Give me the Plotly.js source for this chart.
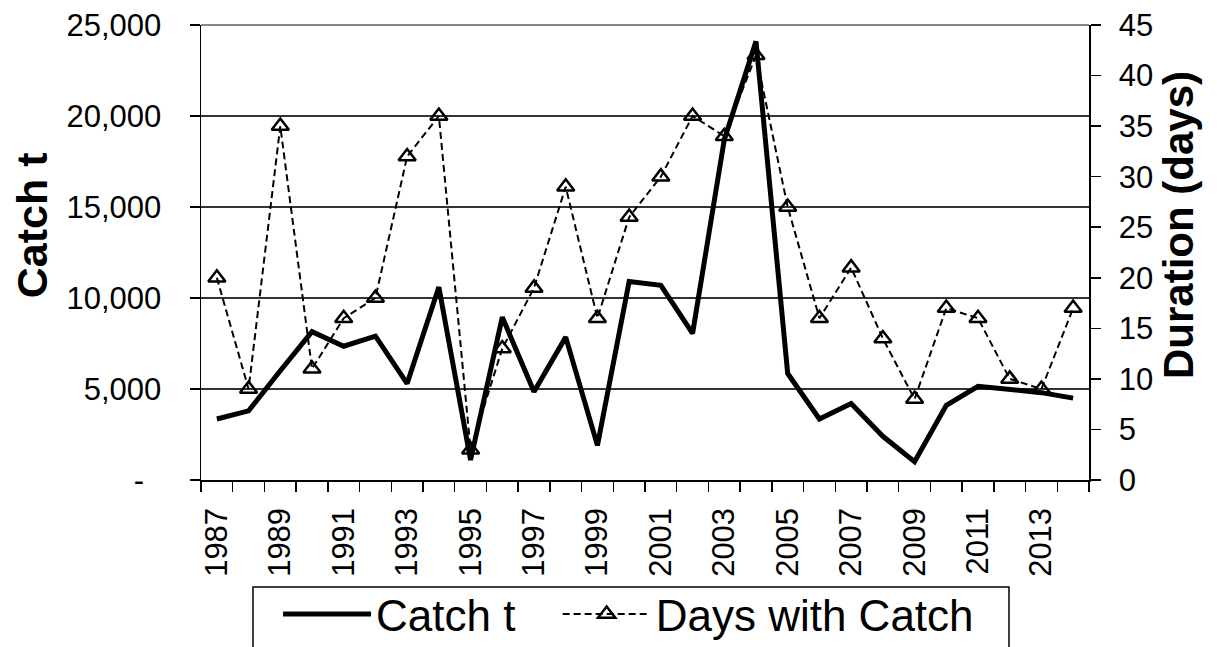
<!DOCTYPE html>
<html>
<head>
<meta charset="utf-8">
<script src="https://cdn.plot.ly/plotly-3.0.1.min.js"></script>
<style>
  html, body { margin: 0; padding: 0; background: #fff; }
  #chart { width: 1217px; height: 647px; }
</style>
</head>
<body>
<div id="chart"></div>
<script>
// Annual catch (tonnes) and number of fishing days with catch, 1987-2014
const years = [1987, 1988, 1989, 1990, 1991, 1992, 1993, 1994, 1995, 1996,
               1997, 1998, 1999, 2000, 2001, 2002, 2003, 2004, 2005, 2006,
               2007, 2008, 2009, 2010, 2011, 2012, 2013, 2014];

const catchTonnes = [3350, 3800, 6000, 8150, 7350, 7900, 5300, 10600, 1100, 8950,
                     4850, 7850, 1900, 10900, 10700, 8050, 18700, 24100, 5850, 3350,
                     4200, 2400, 1000, 4100, 5150, 4950, 4800, 4500];

const daysWithCatch = [20, 9, 35, 11, 16, 18, 32, 36, 3, 13,
                       19, 29, 16, 26, 30, 36, 34, 42, 27, 16,
                       21, 14, 8, 17, 16, 10, 9, 17];

// Left-axis ticks (accounting style: zero shown as a dash)
const catchTickVals = [0, 5000, 10000, 15000, 20000, 25000];
const catchTickText = ['-\u00a0\u00a0', '5,000', '10,000', '15,000', '20,000', '25,000'];

// Right-axis ticks
const dayTickVals = [0, 5, 10, 15, 20, 25, 30, 35, 40, 45];

// Year labels on every second year
const yearLabelVals = years.filter((y, i) => i % 2 === 0);
const yearLabelText = yearLabelVals.map(String);

const FONT = 'Liberation Sans, Arial, Helvetica, sans-serif';

const traces = [
  {
    x: years,
    y: catchTonnes,
    name: 'Catch t\u00a0',
    type: 'scatter',
    mode: 'lines',
    yaxis: 'y',
    line: { color: '#000', width: 5 }
  },
  {
    x: years,
    y: daysWithCatch,
    name: 'Days with Catch',
    type: 'scatter',
    mode: 'lines+markers',
    yaxis: 'y2',
    line: { color: '#000', width: 2, dash: '7px,4px' },
    marker: { symbol: 'triangle-up-open', size: 15, color: '#000', line: { color: '#000', width: 2.5 } }
  }
];

const layout = {
  width: 1217,
  height: 647,
  margin: { l: 201, r: 128, t: 25, b: 167, autoexpand: false },
  paper_bgcolor: '#fff',
  plot_bgcolor: '#fff',
  font: { family: FONT, color: '#000' },
  showlegend: true,
  xaxis: {
    type: 'linear',
    range: [years[0] - 0.5, years[years.length - 1] + 0.5],
    tickmode: 'array',
    tickvals: yearLabelVals,
    ticktext: yearLabelText,
    tickangle: -90,
    ticks: '',
    ticklabelstandoff: 14,
    tickfont: { family: FONT, size: 31, color: '#000' },
    showgrid: false,
    zeroline: false,
    showline: true,
    linecolor: '#000',
    linewidth: 1.5,
    minor: {
      tick0: years[0] - 0.5,
      dtick: 1,
      ticks: 'outside',
      ticklen: 10,
      tickwidth: 1.5,
      tickcolor: '#000',
      showgrid: false
    }
  },
  yaxis: {
    range: [0, 25000],
    tickmode: 'array',
    tickvals: catchTickVals,
    ticktext: catchTickText,
    ticks: 'outside',
    ticklen: 10,
    tickwidth: 1.5,
    tickcolor: '#000',
    ticklabelstandoff: 22,
    tickfont: { family: FONT, size: 31, color: '#000' },
    showgrid: true,
    gridcolor: '#333',
    gridwidth: 1.5,
    zeroline: false,
    showline: true,
    linecolor: '#000',
    linewidth: 1.5
  },
  yaxis2: {
    overlaying: 'y',
    side: 'right',
    range: [0, 45],
    tickmode: 'array',
    tickvals: dayTickVals,
    ticks: 'outside',
    ticklen: 10,
    tickwidth: 1.5,
    tickcolor: '#000',
    ticklabelstandoff: 12,
    tickfont: { family: FONT, size: 31, color: '#000' },
    showgrid: false,
    zeroline: false,
    showline: true,
    linecolor: '#000',
    linewidth: 1.5
  },
  // inner half of the cross ticks on the right axis
  yaxis3: {
    overlaying: 'y',
    side: 'right',
    anchor: 'x',
    range: [0, 45],
    tickmode: 'array',
    tickvals: dayTickVals,
    ticks: 'inside',
    ticklen: 10,
    tickwidth: 1.5,
    tickcolor: '#000',
    showticklabels: false,
    showgrid: false,
    zeroline: false,
    showline: false
  },
  legend: {
    orientation: 'h',
    x: 0.0586,
    xanchor: 'left',
    y: -0.2174,
    yanchor: 'top',
    bgcolor: 'rgba(0,0,0,0)',
    borderwidth: 0,
    itemwidth: 88,
    indentation: 25,
    font: { family: FONT, size: 44, color: '#000' }
  },
  shapes: [
    // frame around the legend, running past the bottom edge
    {
      type: 'rect',
      xref: 'paper', yref: 'paper',
      x0: 0.05856, x1: 0.9099,
      y0: -0.2352, y1: -0.42,
      line: { color: '#000', width: 1.5 },
      fillcolor: '#fff',
      layer: 'below'
    },
    // top edge of the plot area
    {
      type: 'line',
      xref: 'paper', yref: 'paper',
      x0: 0, x1: 1, y0: 1, y1: 1,
      line: { color: '#888', width: 2 },
      layer: 'above'
    }
  ],
  annotations: [
    {
      text: '<b>Catch t</b>',
      xref: 'paper', yref: 'paper',
      x: -0.1903, y: 0.56,
      xanchor: 'center', yanchor: 'middle',
      textangle: -90,
      showarrow: false,
      font: { family: FONT, size: 43, color: '#000' }
    },
    {
      text: '<b>Duration (days)</b>',
      xref: 'paper', yref: 'paper',
      x: 1.1,
      y: 0.56,
      xanchor: 'center', yanchor: 'middle',
      textangle: -90,
      showarrow: false,
      font: { family: FONT, size: 42, color: '#000' }
    }
  ]
};

Plotly.newPlot('chart', traces, layout, { displayModeBar: false, staticPlot: true });
</script>
</body>
</html>
